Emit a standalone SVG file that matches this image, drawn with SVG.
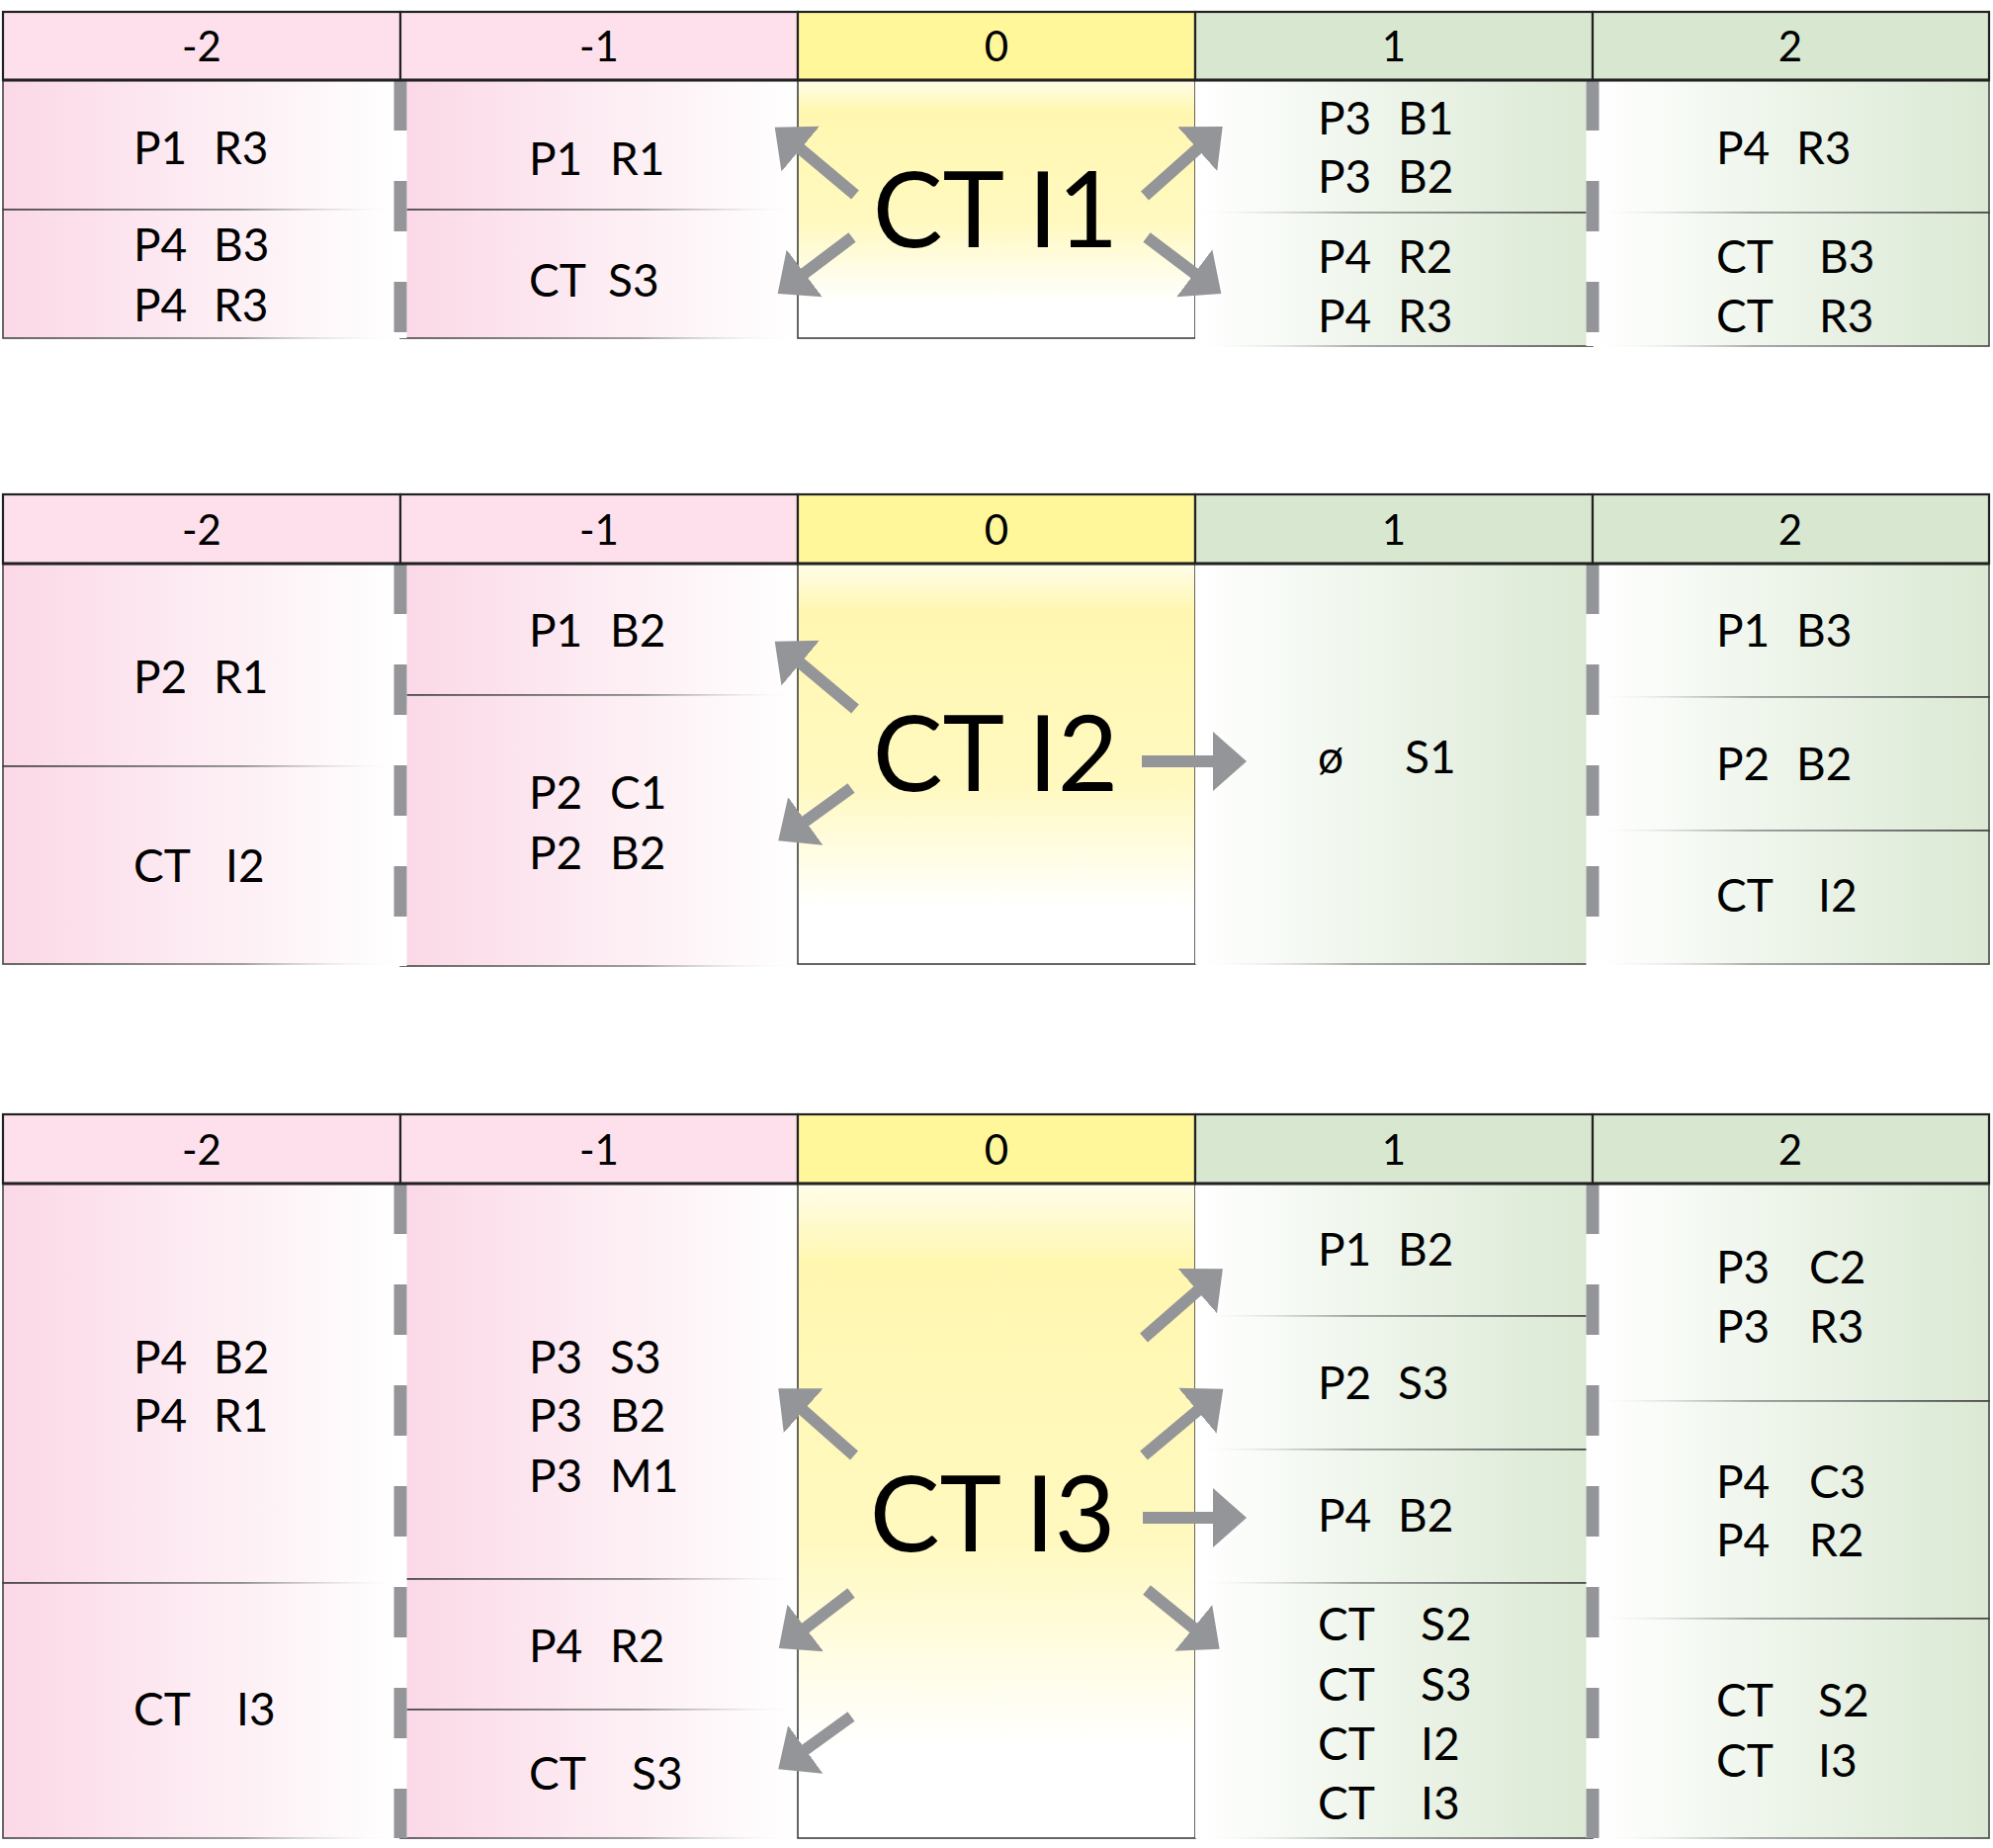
<svg xmlns="http://www.w3.org/2000/svg" width="2016" height="1869" viewBox="0 0 2016 1869">
<style>
text { font-family: Lato, "Open Sans", "Liberation Sans", sans-serif; fill: #000; }
.h { font-size: 42px; text-anchor: middle; }
.t { font-size: 46px; }
.big { font-size: 106px; text-anchor: middle; }
.hp { fill: #fde0ec; stroke: #222; stroke-width: 2.2; }
.hy { fill: #fff799; stroke: #222; stroke-width: 2.2; }
.hg { fill: #d8e7d0; stroke: #222; stroke-width: 2.2; }
.hb { stroke: #222; stroke-width: 3.2; }
.cp { fill: url(#pinkFill); stroke: url(#pinkStroke); stroke-width: 1.6; }
.cg { fill: url(#greenFill); stroke: url(#greenStroke); stroke-width: 1.6; }
.cy { fill: url(#yelFill); stroke: #333; stroke-width: 1.5; }
.gap { stroke: #ffffff; stroke-width: 13; fill: none; }
.sep { stroke: #939598; stroke-width: 13; stroke-dasharray: 51 51; fill: none; }
.arr { stroke: #939598; stroke-width: 12; fill: none; marker-end: url(#ah); }
</style>
<defs>
<linearGradient id="pinkFill" x1="0" y1="0" x2="1" y2="0">
<stop offset="0" stop-color="#fbd8e7"/><stop offset="0.55" stop-color="#fdeef4"/><stop offset="1" stop-color="#ffffff"/>
</linearGradient>
<linearGradient id="greenFill" x1="0" y1="0" x2="1" y2="0">
<stop offset="0" stop-color="#ffffff"/><stop offset="0.45" stop-color="#eef5eb"/><stop offset="1" stop-color="#dbe9d4"/>
</linearGradient>
<linearGradient id="pinkStroke" x1="0" y1="0" x2="1" y2="0">
<stop offset="0" stop-color="#444"/><stop offset="0.6" stop-color="#888"/><stop offset="1" stop-color="#fff" stop-opacity="0"/>
</linearGradient>
<linearGradient id="greenStroke" x1="0" y1="0" x2="1" y2="0">
<stop offset="0" stop-color="#fff" stop-opacity="0"/><stop offset="0.4" stop-color="#999"/><stop offset="1" stop-color="#444"/>
</linearGradient>
<linearGradient id="yelFill" x1="0" y1="0" x2="0" y2="1">
<stop offset="0" stop-color="#fffdea"/><stop offset="0.12" stop-color="#fff7b0"/><stop offset="0.55" stop-color="#fff9c0"/><stop offset="0.86" stop-color="#ffffff"/><stop offset="1" stop-color="#ffffff"/>
</linearGradient>
<marker id="ah" markerUnits="userSpaceOnUse" markerWidth="36" markerHeight="64" viewBox="0 -32 36 64" refX="1" refY="0" orient="auto">
<path d="M0,-30 L34,0 L0,30 Z" fill="#939598"/>
</marker>
</defs>

<!-- ===== Section 1 ===== -->
<g id="sec1">
<g id="s1-m2a"><rect class="cp" x="3" y="81" width="402" height="131"/><text class="t" x="135" y="166"><tspan>P1 </tspan><tspan x="216">R3</tspan></text></g>
<g id="s1-m2b"><rect class="cp" x="3" y="212" width="402" height="130"/><text class="t" x="135" y="264"><tspan>P4 </tspan><tspan x="216">B3</tspan></text><text class="t" x="135" y="325"><tspan>P4 </tspan><tspan x="216">R3</tspan></text></g>
<g id="s1-m1a"><rect class="cp" x="405" y="81" width="402" height="131"/><text class="t" x="535" y="177"><tspan>P1 </tspan><tspan x="617">R1</tspan></text></g>
<g id="s1-m1b"><rect class="cp" x="405" y="212" width="402" height="130"/><text class="t" x="535" y="300"><tspan>CT </tspan><tspan x="615">S3</tspan></text></g>
<g id="s1-c0"><rect class="cy" x="807" y="81" width="402" height="261"/><text class="big" x="1007" y="250">CT I1</text></g>
<g id="s1-p1a"><rect class="cg" x="1209" y="81" width="402" height="134"/><text class="t" x="1333" y="136"><tspan>P3 </tspan><tspan x="1414">B1</tspan></text><text class="t" x="1333" y="195"><tspan>P3 </tspan><tspan x="1414">B2</tspan></text></g>
<g id="s1-p1b"><rect class="cg" x="1209" y="215" width="402" height="135"/><text class="t" x="1333" y="276"><tspan>P4 </tspan><tspan x="1414">R2</tspan></text><text class="t" x="1333" y="336"><tspan>P4 </tspan><tspan x="1414">R3</tspan></text></g>
<g id="s1-p2a"><rect class="cg" x="1611" y="81" width="401" height="134"/><text class="t" x="1736" y="166"><tspan>P4 </tspan><tspan x="1817">R3</tspan></text></g>
<g id="s1-p2b"><rect class="cg" x="1611" y="215" width="401" height="135"/><text class="t" x="1736" y="276"><tspan>CT </tspan><tspan x="1840">B3</tspan></text><text class="t" x="1736" y="336"><tspan>CT </tspan><tspan x="1840">R3</tspan></text></g>
<line class="gap" x1="405" y1="82" x2="405" y2="342"/>
<line class="gap" x1="1611" y1="82" x2="1611" y2="350"/>
<line class="sep" x1="405" y1="81" x2="405" y2="342"/>
<line class="sep" x1="1611" y1="81" x2="1611" y2="350"/>
<g id="s1-header">
<rect class="hp" x="3" y="12" width="402" height="69"/><text class="h" x="204" y="62">-2</text>
<rect class="hp" x="405" y="12" width="402" height="69"/><text class="h" x="606" y="62">-1</text>
<rect class="hy" x="807" y="12" width="402" height="69"/><text class="h" x="1008" y="62">0</text>
<rect class="hg" x="1209" y="12" width="402" height="69"/><text class="h" x="1410" y="62">1</text>
<rect class="hg" x="1611" y="12" width="401" height="69"/><text class="h" x="1811" y="62">2</text>
<line class="hb" x1="3" y1="81" x2="2012" y2="81"/>
</g>
</g>

<!-- ===== Section 2 ===== -->
<g id="sec2">
<g id="s2-m2a"><rect class="cp" x="3" y="570" width="402" height="205"/><text class="t" x="135" y="701"><tspan>P2 </tspan><tspan x="216">R1</tspan></text></g>
<g id="s2-m2b"><rect class="cp" x="3" y="775" width="402" height="200"/><text class="t" x="135" y="892"><tspan>CT </tspan><tspan x="228">I2</tspan></text></g>
<g id="s2-m1a"><rect class="cp" x="405" y="570" width="402" height="133"/><text class="t" x="535" y="654"><tspan>P1 </tspan><tspan x="617">B2</tspan></text></g>
<g id="s2-m1b"><rect class="cp" x="405" y="703" width="402" height="274"/><text class="t" x="535" y="818"><tspan>P2 </tspan><tspan x="617">C1</tspan></text><text class="t" x="535" y="879"><tspan>P2 </tspan><tspan x="617">B2</tspan></text></g>
<g id="s2-c0"><rect class="cy" x="807" y="570" width="402" height="405"/><text class="big" x="1007" y="800">CT I2</text></g>
<g id="s2-p1"><rect class="cg" x="1209" y="570" width="402" height="405"/><text class="t" x="1333" y="782"><tspan>ø </tspan><tspan x="1421">S1</tspan></text></g>
<g id="s2-p2a"><rect class="cg" x="1611" y="570" width="401" height="135"/><text class="t" x="1736" y="654"><tspan>P1 </tspan><tspan x="1817">B3</tspan></text></g>
<g id="s2-p2b"><rect class="cg" x="1611" y="705" width="401" height="135"/><text class="t" x="1736" y="789"><tspan>P2 </tspan><tspan x="1817">B2</tspan></text></g>
<g id="s2-p2c"><rect class="cg" x="1611" y="840" width="401" height="135"/><text class="t" x="1736" y="922"><tspan>CT </tspan><tspan x="1839">I2</tspan></text></g>
<line class="gap" x1="405" y1="571" x2="405" y2="977"/>
<line class="gap" x1="1611" y1="571" x2="1611" y2="977"/>
<line class="sep" x1="405" y1="570" x2="405" y2="977"/>
<line class="sep" x1="1611" y1="570" x2="1611" y2="977"/>
<g id="s2-header">
<rect class="hp" x="3" y="500" width="402" height="70"/><text class="h" x="204" y="551">-2</text>
<rect class="hp" x="405" y="500" width="402" height="70"/><text class="h" x="606" y="551">-1</text>
<rect class="hy" x="807" y="500" width="402" height="70"/><text class="h" x="1008" y="551">0</text>
<rect class="hg" x="1209" y="500" width="402" height="70"/><text class="h" x="1410" y="551">1</text>
<rect class="hg" x="1611" y="500" width="401" height="70"/><text class="h" x="1811" y="551">2</text>
<line class="hb" x1="3" y1="570" x2="2012" y2="570"/>
</g>
</g>

<!-- ===== Section 3 ===== -->
<g id="sec3">
<g id="s3-m2a"><rect class="cp" x="3" y="1197" width="402" height="404"/><text class="t" x="135" y="1389"><tspan>P4 </tspan><tspan x="216">B2</tspan></text><text class="t" x="135" y="1448"><tspan>P4 </tspan><tspan x="216">R1</tspan></text></g>
<g id="s3-m2b"><rect class="cp" x="3" y="1601" width="402" height="258"/><text class="t" x="135" y="1745"><tspan>CT </tspan><tspan x="239">I3</tspan></text></g>
<g id="s3-m1a"><rect class="cp" x="405" y="1197" width="402" height="400"/><text class="t" x="535" y="1389"><tspan>P3 </tspan><tspan x="617">S3</tspan></text><text class="t" x="535" y="1448"><tspan>P3 </tspan><tspan x="617">B2</tspan></text><text class="t" x="535" y="1509"><tspan>P3 </tspan><tspan x="617">M1</tspan></text></g>
<g id="s3-m1b"><rect class="cp" x="405" y="1597" width="402" height="132"/><text class="t" x="535" y="1681"><tspan>P4 </tspan><tspan x="617">R2</tspan></text></g>
<g id="s3-m1c"><rect class="cp" x="405" y="1729" width="402" height="130"/><text class="t" x="535" y="1810"><tspan>CT </tspan><tspan x="639">S3</tspan></text></g>
<g id="s3-c0"><rect class="cy" x="807" y="1197" width="402" height="662"/><text class="big" x="1004" y="1569">CT I3</text></g>
<g id="s3-p1a"><rect class="cg" x="1209" y="1197" width="402" height="134"/><text class="t" x="1333" y="1280"><tspan>P1 </tspan><tspan x="1414">B2</tspan></text></g>
<g id="s3-p1b"><rect class="cg" x="1209" y="1331" width="402" height="135"/><text class="t" x="1333" y="1415"><tspan>P2 </tspan><tspan x="1414">S3</tspan></text></g>
<g id="s3-p1c"><rect class="cg" x="1209" y="1466" width="402" height="135"/><text class="t" x="1333" y="1549"><tspan>P4 </tspan><tspan x="1414">B2</tspan></text></g>
<g id="s3-p1d"><rect class="cg" x="1209" y="1601" width="402" height="258"/><text class="t" x="1333" y="1659"><tspan>CT </tspan><tspan x="1437">S2</tspan></text><text class="t" x="1333" y="1720"><tspan>CT </tspan><tspan x="1437">S3</tspan></text><text class="t" x="1333" y="1780"><tspan>CT </tspan><tspan x="1437">I2</tspan></text><text class="t" x="1333" y="1840"><tspan>CT </tspan><tspan x="1437">I3</tspan></text></g>
<g id="s3-p2a"><rect class="cg" x="1611" y="1197" width="401" height="220"/><text class="t" x="1736" y="1298"><tspan>P3 </tspan><tspan x="1830">C2</tspan></text><text class="t" x="1736" y="1358"><tspan>P3 </tspan><tspan x="1830">R3</tspan></text></g>
<g id="s3-p2b"><rect class="cg" x="1611" y="1417" width="401" height="220"/><text class="t" x="1736" y="1515"><tspan>P4 </tspan><tspan x="1830">C3</tspan></text><text class="t" x="1736" y="1574"><tspan>P4 </tspan><tspan x="1830">R2</tspan></text></g>
<g id="s3-p2c"><rect class="cg" x="1611" y="1637" width="401" height="222"/><text class="t" x="1736" y="1736"><tspan>CT </tspan><tspan x="1839">S2</tspan></text><text class="t" x="1736" y="1797"><tspan>CT </tspan><tspan x="1839">I3</tspan></text></g>
<line class="gap" x1="405" y1="1198" x2="405" y2="1859"/>
<line class="gap" x1="1611" y1="1198" x2="1611" y2="1859"/>
<line class="sep" x1="405" y1="1197" x2="405" y2="1859"/>
<line class="sep" x1="1611" y1="1197" x2="1611" y2="1859"/>
<g id="s3-header">
<rect class="hp" x="3" y="1127" width="402" height="70"/><text class="h" x="204" y="1178">-2</text>
<rect class="hp" x="405" y="1127" width="402" height="70"/><text class="h" x="606" y="1178">-1</text>
<rect class="hy" x="807" y="1127" width="402" height="70"/><text class="h" x="1008" y="1178">0</text>
<rect class="hg" x="1209" y="1127" width="402" height="70"/><text class="h" x="1410" y="1178">1</text>
<rect class="hg" x="1611" y="1127" width="401" height="70"/><text class="h" x="1811" y="1178">2</text>
<line class="hb" x1="3" y1="1197" x2="2012" y2="1197"/>
</g>
</g>

<!-- ===== Connectors ===== -->
<g id="connectors">
<line class="arr" x1="865" y1="197" x2="809" y2="150"/>
<line class="arr" x1="862" y1="240" x2="813" y2="277"/>
<line class="arr" x1="1158" y1="198" x2="1212" y2="150"/>
<line class="arr" x1="1160" y1="240" x2="1209" y2="277"/>

<line class="arr" x1="865" y1="717" x2="809" y2="670"/>
<line class="arr" x1="861" y1="797" x2="814" y2="831"/>
<line class="arr" x1="1155" y1="770" x2="1228" y2="770"/>

<line class="arr" x1="864" y1="1472" x2="812" y2="1426"/>
<line class="arr" x1="861" y1="1611" x2="814" y2="1647"/>
<line class="arr" x1="861" y1="1736" x2="814" y2="1770"/>
<line class="arr" x1="1157" y1="1353" x2="1212" y2="1305"/>
<line class="arr" x1="1157" y1="1472" x2="1212" y2="1426"/>
<line class="arr" x1="1156" y1="1535" x2="1228" y2="1535"/>
<line class="arr" x1="1160" y1="1608" x2="1208" y2="1647"/>
</g>
</svg>
